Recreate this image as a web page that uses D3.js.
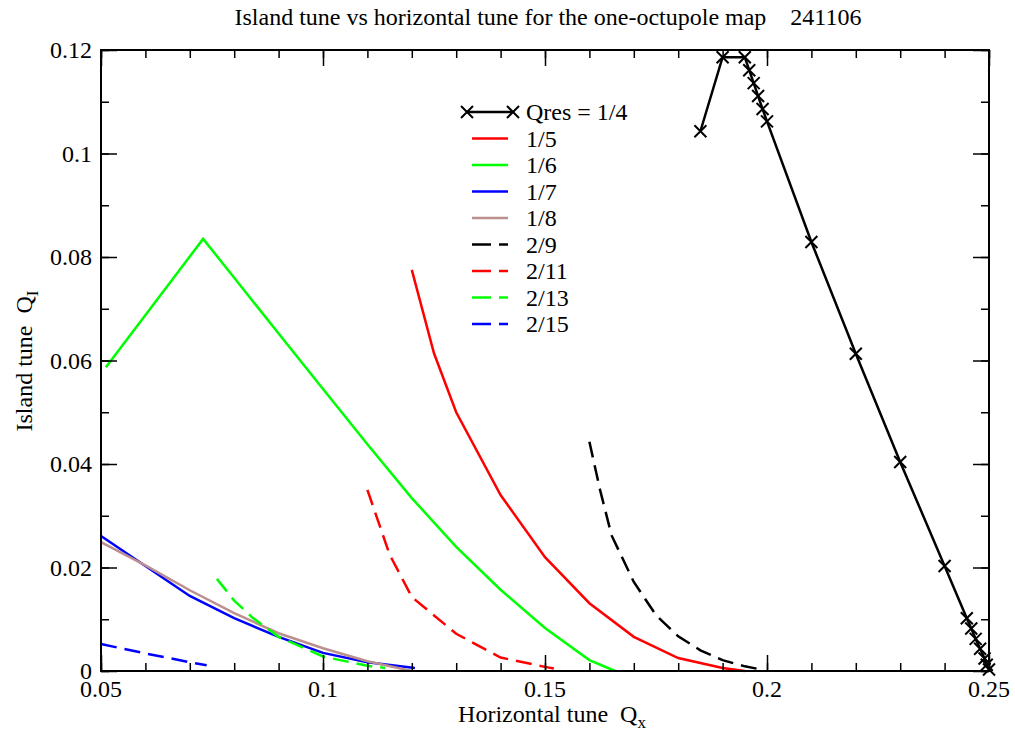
<!DOCTYPE html>
<html>
<head>
<meta charset="utf-8">
<script src="https://cdn.jsdelivr.net/npm/d3@7"></script>
<style>
  body { margin: 0; background: #fff; }
  svg text { font-family: "Liberation Serif", "Times New Roman", serif !important; fill: #000; }
</style>
</head>
<body>
<div id="chart"></div>
<script>
// island tune vs horizontal tune

const res14 = [[0.185, 0.1043], [0.19, 0.1186], [0.195, 0.1186], [0.196, 0.1161], [0.197, 0.1136],
  [0.198, 0.1111], [0.199, 0.1086], [0.2, 0.1062], [0.21, 0.0829], [0.22, 0.0613], [0.23, 0.0404],
  [0.24, 0.0203], [0.245, 0.0102], [0.246, 0.0082], [0.247, 0.0062], [0.248, 0.0043],
  [0.249, 0.0024], [0.2495, 0.0012], [0.25, 0.0003]];
const res15 = [[0.12, 0.0775], [0.125, 0.0614], [0.13, 0.050], [0.14, 0.034], [0.15, 0.022],
  [0.16, 0.0131], [0.17, 0.0066], [0.18, 0.0025], [0.19, 0.0006], [0.195, 0.0]];
const res16 = [[0.0511, 0.0587], [0.073, 0.0835], [0.08, 0.0760], [0.09, 0.0652], [0.1, 0.0545],
  [0.11, 0.0438], [0.12, 0.0334], [0.13, 0.0240], [0.14, 0.0157], [0.15, 0.0083],
  [0.16, 0.0021], [0.1658, 0.0]];
const res17 = [[0.05, 0.0261], [0.06, 0.0203], [0.07, 0.0145], [0.08, 0.0102], [0.09, 0.0066],
  [0.1, 0.0035], [0.11, 0.0017], [0.1207, 0.0006]];
const res18 = [[0.05, 0.0249], [0.06, 0.0204], [0.07, 0.0156], [0.08, 0.0112], [0.09, 0.0073],
  [0.1, 0.0044], [0.11, 0.0019], [0.12, 0.0]];
const res29 = [[0.16, 0.0443], [0.1624, 0.035], [0.165, 0.0262], [0.17, 0.0172], [0.175, 0.0108],
  [0.18, 0.0067], [0.185, 0.0040], [0.19, 0.0021], [0.195, 0.0009], [0.198, 0.0004]];
const res211 = [[0.11, 0.035], [0.115, 0.0225], [0.12, 0.0143], [0.13, 0.0072],
  [0.14, 0.0026], [0.15, 0.0008], [0.152, 0.0005]];
const res213 = [[0.0761, 0.0178], [0.08, 0.0136], [0.084, 0.0104], [0.09, 0.0066], [0.1, 0.0028],
  [0.11, 0.0010], [0.114, 0.0006]];
const res215 = [[0.05, 0.0052], [0.06, 0.0034], [0.07, 0.0017], [0.0738, 0.0011]];

const labels = ["Qres = 1/4", "1/5", "1/6", "1/7", "1/8", "2/9", "2/11", "2/13", "2/15"];
const xTicks = [0.05, 0.1, 0.15, 0.2, 0.25];
const yTicks = [0, 0.02, 0.04, 0.06, 0.08, 0.1, 0.12];

const series = [
  { data: res14, color: "#000000", dash: null, marks: true },
  { data: res15, color: "#ff0000", dash: null },
  { data: res16, color: "#00ff00", dash: null },
  { data: res17, color: "#0000ff", dash: null },
  { data: res18, color: "#bc8f8f", dash: null },
  { data: res29, color: "#000000", dash: "16,8" },
  { data: res211, color: "#ff0000", dash: "16,8" },
  { data: res213, color: "#00ff00", dash: "16,8" },
  { data: res215, color: "#0000ff", dash: "16,8" }
];

const width = 1015, height = 738,
  margin = ({ top: 50, right: 26, bottom: 67, left: 101 });
const serif = "'Liberation Serif', 'Times New Roman', serif";

const svg = d3.select("#chart").append("svg")
  .attr("width", width).attr("height", height)
  .attr("font-family", serif);

const x = d3.scaleLinear().domain([0.05, 0.25]).range([margin.left, width - margin.right]);
const y = d3.scaleLinear().domain([0, 0.12]).range([height - margin.bottom, margin.top]);

const minorX = d3.range(0.05, 0.2501, 0.01), minorY = d3.range(0, 0.1201, 0.01);

// lines first, then the frame on top
const line = d3.line().x(d => x(d[0])).y(d => y(d[1]));

series.forEach(s => {
  svg.append("path")
    .datum(s.data)
    .attr("d", line)
    .attr("fill", "none")
    .attr("stroke", s.color)
    .attr("stroke-width", 2.5)
    .attr("stroke-dasharray", s.dash);
});

const cross = "M-6,-6L6,6M-6,6L6,-6";
svg.append("g").selectAll("path")
  .data(res14)
  .join("path")
  .attr("transform", d => `translate(${x(d[0])},${y(d[1])})`)
  .attr("d", cross)
  .attr("stroke", "#000")
  .attr("stroke-width", 2);

// axes: ticks point inward on all four sides
function ticks(axis, pos, values, size) {
  svg.append("g")
    .attr("transform", pos)
    .call(axis.tickValues(values).tickSize(size).tickFormat(""))
    .call(g => g.select(".domain").remove());
}
const bottomPos = `translate(0,${height - margin.bottom})`,
  topPos = `translate(0,${margin.top})`,
  leftPos = `translate(${margin.left},0)`,
  rightPos = `translate(${width - margin.right},0)`;
ticks(d3.axisTop(x), bottomPos, minorX, 8);
ticks(d3.axisTop(x), bottomPos, xTicks, 16);
ticks(d3.axisBottom(x), topPos, minorX, 8);
ticks(d3.axisBottom(x), topPos, xTicks, 16);
ticks(d3.axisRight(y), leftPos, minorY, 8);
ticks(d3.axisRight(y), leftPos, yTicks, 16);
ticks(d3.axisLeft(y), rightPos, minorY, 8);
ticks(d3.axisLeft(y), rightPos, yTicks, 16);
svg.selectAll(".tick line").attr("stroke", "#000").attr("stroke-width", 1.5);

svg.append("rect")
  .attr("x", margin.left).attr("y", margin.top)
  .attr("width", width - margin.left - margin.right)
  .attr("height", height - margin.top - margin.bottom)
  .attr("fill", "none").attr("stroke", "#000").attr("stroke-width", 2);

// tick labels
svg.append("g").selectAll("text")
  .data(xTicks).join("text")
  .attr("x", d => x(d)).attr("y", height - margin.bottom + 26)
  .attr("text-anchor", "middle")
  .style("font-family", serif)
  .style("font-size", "24px")
  .text(d => +d.toFixed(2));
svg.append("g").selectAll("text")
  .data(yTicks).join("text")
  .attr("x", margin.left - 9).attr("y", d => y(d))
  .attr("dy", "0.35em")
  .attr("text-anchor", "end")
  .style("font-family", serif)
  .style("font-size", "24px")
  .text(d => +d.toFixed(2));

// titles
svg.append("text")
  .attr("x", 548).attr("y", 25)
  .attr("text-anchor", "middle")
  .style("font-family", serif)
  .style("font-size", "24px")
  .attr("xml:space", "preserve")
  .text("Island tune vs horizontal tune for the one-octupole map    241106");

const xl = svg.append("text")
  .attr("x", 552).attr("y", 722)
  .attr("text-anchor", "middle")
  .style("font-family", serif)
  .style("font-size", "24px")
  .attr("xml:space", "preserve");
xl.append("tspan").text("Horizontal tune  Q");
xl.append("tspan").attr("dy", 6).style("font-size", "17px").text("x");

const yl = svg.append("text")
  .attr("transform", "translate(32,361) rotate(-90)")
  .attr("text-anchor", "middle")
  .style("font-family", serif)
  .style("font-size", "24px")
  .attr("xml:space", "preserve");
yl.append("tspan").text("Island tune  Q");
yl.append("tspan").attr("dy", 6).style("font-size", "17px").text("I");

// legend
const leg = svg.append("g").selectAll("g")
  .data(series).join("g")
  .attr("transform", (d, i) => `translate(0,${112 + i * 26.5})`);
leg.append("line")
  .attr("x1", 472).attr("x2", 508)
  .attr("stroke", d => d.color)
  .attr("stroke-width", 2.5)
  .attr("stroke-dasharray", d => d.dash ? "19,8" : null);
leg.filter(d => d.marks).select("line").attr("x1", 467).attr("x2", 513);
leg.filter(d => d.marks).selectAll("path")
  .data([467, 513]).join("path")
  .attr("transform", d => `translate(${d},0)`)
  .attr("d", cross)
  .attr("stroke", "#000").attr("stroke-width", 2);
leg.append("text")
  .attr("x", 526).attr("dy", "0.35em")
  .style("font-family", serif)
  .style("font-size", "24px")
  .text((d, i) => labels[i]);
</script>
</body>
</html>
